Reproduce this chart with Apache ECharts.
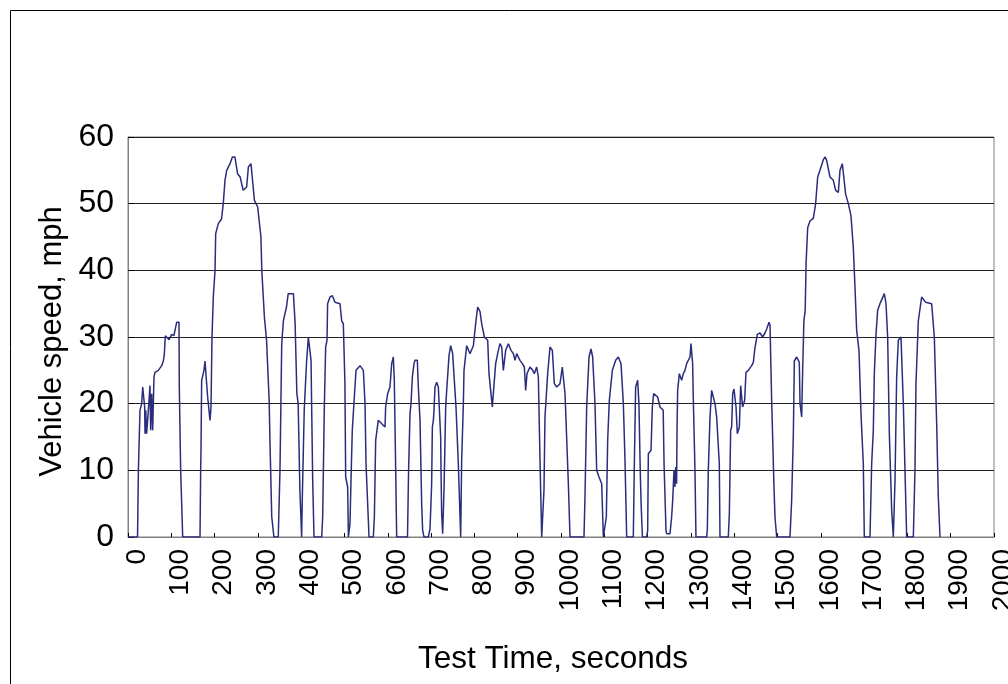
<!DOCTYPE html>
<html>
<head>
<meta charset="utf-8">
<script src="https://cdn.jsdelivr.net/npm/echarts@6/dist/echarts.min.js"></script>
<style>
html,body{margin:0;padding:0;background:#fff;}
#chart{width:1008px;height:684px;}
</style>
</head>
<body>
<div id="chart"></div>
<script>
// Test time (s) and vehicle speed (mph)
var timeSec = [
  0,22,24,27.7,31.6,34,37,38.5,39.3,41,43,47,50.8,52.3,54.7,57,59.5,60,62.3,66.2,70,73.9,77.8,81.6,83.9,86.2,89.3,95,100.8,106,112.4,117.8,118.5,121.6,126.3,
  166.3,167.8,168.6,170.1,175.5,177.8,181.7,184,189.4,191.7,194,197,201,202.5,208.6,216,220,224,228,235.6,241,247,253,259,266,270,274,278,284,292,299.5,307,309,315,320,326,328,332,337,
  347,351,355,359,366,370,382,386,390,393,397,401,
  399.6,402.6,407,412.6,416.5,420,422.7,426.5,429.6,
  447.3,449.6,453.4,456.5,459.6,461,466.5,472,478,489.6,493.5,497.3,501,502.7,507.3,509,
  510.4,512.7,515,518,522.7,526.6,535.8,543.5,547.4,549.7,553.5,556.6,
  566.6,569,572,578,586,593.6,595,599.7,605,609,612.8,615,618,620.5,
  645.5,648,651.3,653.6,656.7,660.5,662.8,668.2,670.5,674.4,676.7,678.2,680.5,683.6,693.6,697.5,699,699.8,701.3,702.9,705.2,706.7,709,712.9,716.7,722.1,722.9,724.4,726.7,729.8,733.7,736,741.4,745.2,749.8,757.5,762.9,768.3,
  770.6,774.5,776,782.2,786,789.9,793.7,797.6,799.9,803.7,807.6,813,816.8,823,830.7,833.7,838.3,841.4,843.7,849.1,855.3,859.1,863,866.8,872.2,878.4,884.5,889.9,893.8,897.6,905.3,910.7,915.3,918.4,921.5,928.4,934.6,938.4,943.8,947.7,951.5,955.4,
  959.2,960.7,963,969.2,974.6,980,984.6,990,997.7,1003,1009.3,1017,1020.8,
  1053.1,1055.4,1059.3,1064.7,1069.3,1073.1,1078.5,1082.4,1087.8,1094,1097.8,
  1101.6,1104.7,1107.8,1111.6,1114.7,1118.6,1126.3,1132.4,1138.6,1144,1147.8,1151.7,
  1167,1169.4,1172.4,1177,1180,1183,1185,1188,
  1197.8,1200.2,1201.7,1207.9,1210.9,1214,1218.6,1223.2,1228.6,1233,1236,1238,1242.5,1244,1251.7,1255.5,1257.9,1261,1263,1265,1267,1268,1269.4,1273.3,1278.6,1282.5,1286.3,1290.2,1294,1297.9,1300.2,1303.3,1304,1305.6,1309.4,1311.7,
  1336.4,1337.9,1340.2,1344.1,1347.9,1351.8,1355.6,1359.5,1365.6,1367.2,
  1386.4,1388.8,1391.8,1394.1,1396.5,1399.5,1401.8,1404.2,1407.2,1409.5,1411.9,1414.9,1418,1419.5,1422.6,1424.2,1427.2,1432.6,1440.3,1444.2,1448,1453.4,1459.6,1465.7,1471.1,1475,1480.4,1482.7,1486.5,1491.9,1494.2,1498.1,
  1528.9,1532.7,1536.6,1538.9,1544.3,1550.4,1552,1555.8,1558.1,1561,1564,1566,1568,1569.7,1575,1582.7,1588.1,1592.8,1598.1,1605.8,1610,1613.5,1621.2,1628.9,1634.3,1640.5,1644.3,1649.7,1657.4,1663.6,1669.7,1675.1,1679,1682.8,1688.2,1692.8,1698.2,1700.5,
  1713.6,1717.5,1721.3,1723.6,1727.5,1731.3,1736.7,1746.7,1750.6,1754.4,1758.3,1763.7,1767.5,
  1769.8,1771.4,1775.2,1779,1785.2,1790.6,1796,1798.3,
  1813.7,1817.5,1819.8,1825.2,1832.9,1842.2,1856,1862.2,1867.6,1871.4,1875.3
];
var speedMph = [
  0,0,10,19,20,22.5,22.5,19.5,15.5,19,15.5,19,22.7,16,21.5,16,16,24,24.7,24.7,25,25.2,25.7,26.4,27.4,30.2,30.4,29.6,30.4,30.2,32.2,32.2,22.5,10,0,
  0,10,13,23.5,25,26.4,26.4,21,17.5,19.5,30,36,40,45.5,47,47.7,50,53.5,55,56,57,57,54.5,54,52,51.7,52.5,55.5,56,50.5,49.5,45,40,33,29.5,20.5,14,3,0,
  0,10,29,32.5,34.5,36.5,36.5,32,21.5,20,7,0,
  0,6,19,26.5,30,30,26.5,8.5,0,
  0,3,19.5,28.5,29.5,35,36,36.2,35.2,35,32.4,32,23,9,7.5,0,
  0,2,8.5,16,21,25,25.7,25,20,11,5,0,
  0,3,14.5,17.5,17,16.5,19.5,21.5,22.5,26,27,23.5,11,0,
  0,10,18.5,20,24,26,26.5,26.5,22.5,17.5,10,5,1,0,0,1.2,1.2,1,8,16.5,17.5,19,22.5,23.2,22.5,15,10,3.5,0.5,7,19.5,22,27.2,28.7,27.5,19.5,11,0,
  11.5,20,25,28.7,28.7,27.5,27.5,28.7,28.5,32.5,34.5,33.8,32,30,29.5,24.5,21.5,19.5,21.5,26,28,29,28.5,25,28,29,28,27.5,26.5,27.5,26.5,26,25.5,22,24.5,25.5,25,24.5,25.5,24,11.5,0,
  0,7,18,24.5,28.5,28,23,22.5,23,25.5,21.5,8,0,
  0,6,19.5,27,28.2,27,20,10,9,8,0,
  0,3,14.5,20.5,22.5,25,26.5,27,26,20,11.5,0,
  0,11,22.5,23.5,20,10,5,0,
  0,1,12.5,13,19.5,21.5,21.7,21,19.5,19.5,19,11,1,0.5,0.5,3,5.5,10,7.5,10.5,8,16.5,22,24.5,23.5,24.5,25,26,26.2,27,29,29,26,20.5,10,0,
  0,1,10,18,22,22.2,20,18,11,0,
  0,3.5,16,16.5,21.5,22.2,22.2,19.5,15.5,15.5,16.5,22.7,22.7,19.5,19.5,20.5,24.7,25,25.7,26.2,28.4,30.4,30.6,30,30.6,31.2,32.2,31.8,20.5,7.5,3,0,
  0,5.5,15.5,26.4,27,26.2,20,18,25,32.5,34,41,44,46.4,47.4,47.8,50,54,55,56.6,57,56.5,54,53.5,52,51.7,55,56,51.4,50,48.2,43.4,37.4,31,28,18.5,11,0,
  0,11,16,24.5,30.4,34,35,36.5,35,30,15.5,4,0,
  0,8.5,24,29.5,30,20,6,0,
  0,10,23,32.4,36,35.2,35,30,17,6,0
];
var xTicks = { min: 0, max: 2000, step: 100 };
var yTicks = { min: 0, max: 60, step: 10 };

var pairs = [];
for (var i = 0; i < timeSec.length; i++) pairs.push([timeSec[i], speedMph[i]]);

var chart = echarts.init(document.getElementById('chart'), null, { renderer: 'canvas' });
var FONT = 'Liberation Sans, Arial, sans-serif';
chart.setOption({
  animation: false,
  backgroundColor: '#ffffff',
  graphic: [{
    type: 'rect', left: 8, top: 8, silent: true,
    shape: { x: 0, y: 0, width: 1010, height: 700 },
    style: { fill: 'none', stroke: '#000', lineWidth: 1 }
  }],
  grid: {
    left: 128, top: 137, right: 14, bottom: 147,
    containLabel: false, outerBoundsMode: 'none',
    show: true, borderColor: '#808080', borderWidth: 1, backgroundColor: 'transparent'
  },
  xAxis: {
    type: 'value', min: xTicks.min, max: xTicks.max, interval: xTicks.step,
    name: 'Test Time, seconds', nameLocation: 'middle', nameGap: 106,
    nameTextStyle: { fontFamily: FONT, fontSize: 31.5, color: '#000', padding: [0, 16, 0, 0] },
    axisLine: { show: true, lineStyle: { color: '#808080', width: 1 } },
    axisTick: { show: true, inside: true, length: 4, lineStyle: { color: '#000' } },
    axisLabel: { rotate: 90, margin: 12, fontFamily: FONT, fontSize: 28, color: '#000',
      verticalAlign: 'top', lineHeight: 18,
      formatter: function (v) { return String(v); } },
    splitLine: { show: false }
  },
  yAxis: {
    type: 'value', min: yTicks.min, max: yTicks.max, interval: yTicks.step,
    name: 'Vehicle speed, mph', nameLocation: 'middle', nameGap: 60,
    nameTextStyle: { fontFamily: FONT, fontSize: 31, color: '#000', padding: [0, 9, 0, 0] },
    axisLine: { show: true, lineStyle: { color: '#808080', width: 1 } },
    axisTick: { show: true, inside: true, length: 6, lineStyle: { color: '#000' } },
    axisLabel: { margin: 14, fontFamily: FONT, fontSize: 32, color: '#000',
      formatter: function (v) { return String(v); } },
    splitLine: { show: true, lineStyle: { color: '#202020', width: 1 } }
  },
  series: [{
    type: 'line', data: pairs, showSymbol: false, symbol: 'none',
    lineStyle: { color: '#2b2d7c', width: 1.5 },
    z: 3
  }]
});
</script>
</body>
</html>
